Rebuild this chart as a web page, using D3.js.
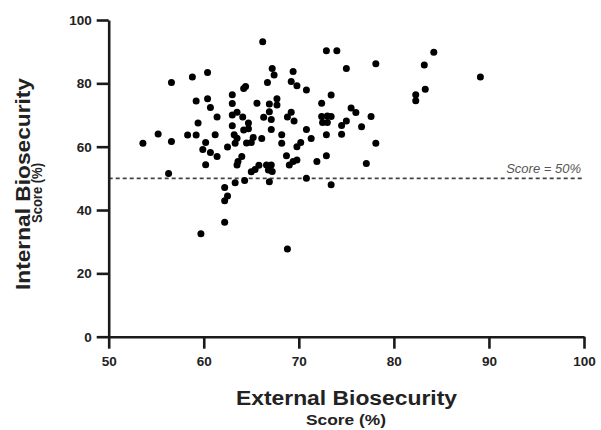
<!DOCTYPE html>
<html>
<head>
<meta charset="utf-8">
<script src="https://cdn.jsdelivr.net/npm/d3@7"></script>
<style>
  body { margin: 0; background: #fff; }
  svg text { font-family: "Liberation Sans", Arial, sans-serif; }
</style>
</head>
<body>
<svg id="chart" width="601" height="430"></svg>
<script>
(function(){
'use strict';

// external / internal biosecurity score (%) per farm
var externalScore = [
    66.2, 72.9, 74.0, 84.2, 78.1, 83.2, 75.0, 67.2, 67.4, 60.4,
    58.8, 56.6, 69.4, 66.7, 69.2, 69.8, 70.8, 64.4, 64.2, 89.1,
    83.3, 82.3, 82.3, 73.4, 63.0, 59.2, 60.4, 60.7, 63.0, 65.6,
    66.9, 67.7, 67.7, 72.4, 75.5, 76.0, 61.4, 63.0, 63.5, 64.1,
    66.3, 66.9, 67.1, 68.8, 69.2, 69.5, 72.4, 73.0, 73.4, 72.5,
    73.0, 74.5, 75.0, 76.6, 77.6, 59.4, 63.0, 64.7, 64.2, 64.7,
    67.1, 70.8, 53.6, 55.2, 56.6, 58.3, 59.2, 61.2, 63.2, 63.5,
    63.3, 66.1, 65.2, 65.0, 64.5, 68.2, 68.2, 71.3, 72.9, 74.5,
    69.8, 70.2, 78.1, 60.2, 59.9, 60.7, 61.4, 62.5, 64.0, 63.6,
    63.5, 60.2, 65.0, 65.4, 65.8, 66.6, 67.1, 66.8, 67.2, 68.7,
    69.0, 69.4, 69.8, 71.9, 72.9, 77.1, 56.3, 70.8, 64.3, 63.3,
    66.9, 73.4, 62.2, 62.5, 62.2, 62.2, 59.7, 68.8
];
var internalScore = [
    93.1, 90.3, 90.3, 89.8, 86.2, 85.8, 84.7, 84.7, 82.6, 83.4,
    82.0, 80.3, 83.7, 80.3, 80.6, 79.2, 77.9, 79.0, 78.4, 82.0,
    78.1, 76.4, 74.5, 76.3, 76.4, 74.4, 75.1, 72.4, 73.6, 73.7,
    73.5, 75.1, 73.2, 73.7, 72.2, 70.8, 69.4, 70.0, 70.9, 69.4,
    69.3, 71.0, 68.6, 69.4, 70.9, 68.1, 69.5, 69.7, 69.5, 67.6,
    67.6, 66.7, 68.1, 66.3, 69.5, 67.5, 66.6, 67.5, 65.3, 65.7,
    65.4, 65.4, 61.1, 64.0, 61.6, 63.7, 63.7, 63.8, 63.8, 62.7,
    61.1, 62.6, 62.9, 61.3, 61.2, 63.8, 61.1, 62.6, 63.8, 63.9,
    60.0, 61.3, 61.1, 61.3, 59.1, 58.2, 56.9, 59.9, 56.9, 55.3,
    54.2, 54.3, 52.1, 52.8, 54.1, 54.2, 54.2, 52.6, 52.2, 57.1,
    54.2, 55.3, 55.8, 55.3, 57.1, 54.7, 51.5, 50.0, 49.3, 48.6,
    48.9, 48.0, 47.1, 44.4, 42.9, 36.1, 32.5, 27.7
];

var xTicks = [50, 60, 70, 80, 90, 100],
    yTicks = [0, 20, 40, 60, 80, 100],
    thresholdScore = 50,
    thresholdLabel = 'Score = 50%';

var points = externalScore.map(function(x, i) { return {x: x, y: internalScore[i]}; });

var svg = d3.select('#chart');

var xScale = d3.scaleLinear().domain([50, 100]).range([108.7, 584]),
    yScale = d3.scaleLinear().domain([0, 100]).range([336.7, 20]);

var ink = '#1a1a1a';

// threshold line
svg.append('line')
    .attr('x1', xScale(50)).attr('x2', xScale(100))
    .attr('y1', yScale(thresholdScore)).attr('y2', yScale(thresholdScore))
    .attr('stroke', '#444')
    .attr('stroke-width', 1.6)
    .attr('stroke-dasharray', '4,3');

svg.append('text')
    .attr('x', 581)
    .attr('y', yScale(thresholdScore) - 5)
    .attr('text-anchor', 'end')
    .attr('font-size', 13)
    .attr('font-style', 'italic')
    .attr('fill', '#555')
    .text(thresholdLabel);

// dots
svg.append('g').selectAll('circle').data(points).enter().append('circle')
    .attr('cx', function(d) { return xScale(d.x); })
    .attr('cy', function(d) { return yScale(d.y); })
    .attr('r', 3.5)
    .attr('fill', '#000');

// axes
var xAxis = svg.append('g')
    .attr('transform', 'translate(0,' + yScale(0) + ')')
    .call(d3.axisBottom(xScale).tickValues(xTicks).tickSize(12).tickSizeOuter(0).tickPadding(8));

var yAxis = svg.append('g')
    .attr('transform', 'translate(' + xScale(50) + ',0)')
    .call(d3.axisLeft(yScale).tickValues(yTicks).tickSize(12).tickSizeOuter(0).tickPadding(5));

[xAxis, yAxis].forEach(function(ax) {
    ax.select('.domain').attr('stroke', ink).attr('stroke-width', 2.6);
    ax.selectAll('.tick line').attr('stroke', ink).attr('stroke-width', 2.6);
    ax.selectAll('.tick text')
        .attr('fill', '#222')
        .attr('font-size', 13.5)
        .attr('font-weight', 'bold')
        .style('font-family', '"Liberation Sans", Arial, sans-serif');
});

// axis titles (stretched a little to the widths seen in the picture)
function title(x, y, rot, size, len, label) {
    svg.append('text')
        .attr('transform', 'translate(' + x + ',' + y + ')' + (rot ? ' rotate(-90)' : ''))
        .attr('text-anchor', 'middle')
        .attr('font-size', size).attr('font-weight', 'bold').attr('fill', '#222')
        .attr('textLength', len).attr('lengthAdjust', 'spacingAndGlyphs')
        .text(label);
}
title(346.5, 405, false, 20, 221, 'External Biosecurity');
title(346, 425, false, 15, 80, 'Score (%)');
title(30, 184, true, 20.5, 212, 'Internal Biosecurity');
title(42, 193, true, 14.5, 60, 'Score (%)');

})();
</script>
</body>
</html>
